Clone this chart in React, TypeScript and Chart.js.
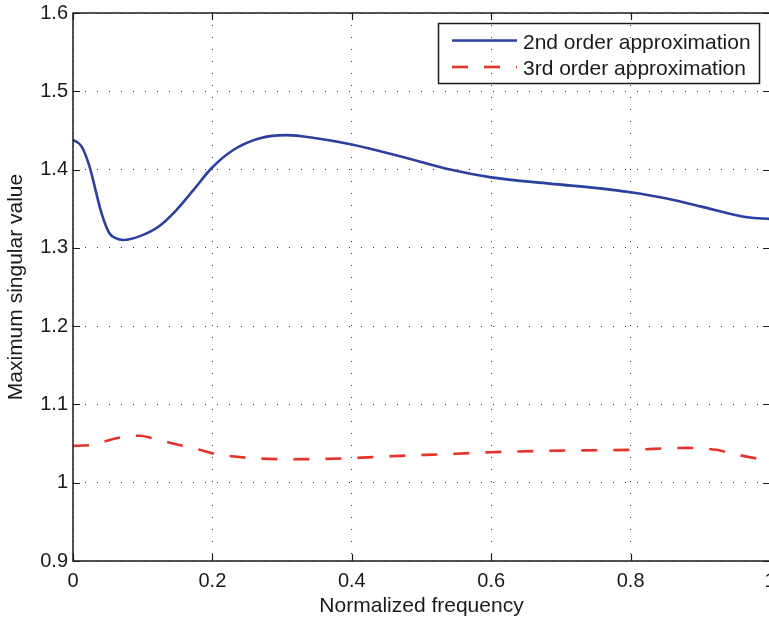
import React, { useEffect, useRef } from 'react';
import { Chart, registerables } from 'chart.js';

Chart.register(...registerables);

const secondFreq = [0, 0.012, 0.023, 0.041, 0.052, 0.062, 0.072, 0.096, 0.124, 0.148, 0.172, 0.199, 0.23, 0.268, 0.306, 0.349, 0.4, 0.469, 0.541, 0.6, 0.684, 0.756, 0.8, 0.852, 0.9, 0.967, 1.0];
const secondValues = [1.438, 1.43, 1.406, 1.344, 1.319, 1.312, 1.31, 1.315, 1.328, 1.348, 1.373, 1.402, 1.425, 1.44, 1.444, 1.44, 1.432, 1.417, 1.4, 1.39, 1.382, 1.376, 1.371, 1.363, 1.353, 1.339, 1.337];

const thirdFreq = [0, 0.024, 0.069, 0.096, 0.113, 0.139, 0.158, 0.182, 0.203, 0.249, 0.316, 0.388, 0.459, 0.55, 0.6, 0.699, 0.8, 0.88, 0.923, 0.947, 0.981, 1.0];
const thirdValues = [1.047, 1.048, 1.058, 1.06, 1.057, 1.051, 1.047, 1.042, 1.037, 1.032, 1.03, 1.031, 1.034, 1.037, 1.039, 1.041, 1.042, 1.0445, 1.042, 1.037, 1.031, 1.029];

const xTicks = [0, 0.2, 0.4, 0.6, 0.8, 1];
const xTickLabels = ['0', '0.2', '0.4', '0.6', '0.8', '1'];
const yTicks = [0.9, 1, 1.1, 1.2, 1.3, 1.4, 1.5, 1.6];
const yTickLabels = ['0.9', '1', '1.1', '1.2', '1.3', '1.4', '1.5', '1.6'];
const seriesLabels = ['2nd order approximation', '3rd order approximation'];

const FONT = '"Liberation Sans", Arial, Helvetica, sans-serif';
const BLUE = '#2b3f9e';
const RED = '#e5332a';
const INK = '#1a1a1a';

const framePlugin = {
  id: 'frame',
  afterDatasetsDraw(chart: any) {
    const { ctx, chartArea, scales } = chart;
    const { left, right, top, bottom } = chartArea;
    ctx.save();
    ctx.strokeStyle = INK;
    ctx.lineWidth = 1.5;
    ctx.strokeRect(left, top, right - left, bottom - top);
    ctx.lineWidth = 1.2;
    const tl = 7;
    ctx.beginPath();
    xTicks.forEach((v) => {
      const px = Math.round(scales.x.getPixelForValue(v)) + 0.5;
      ctx.moveTo(px, bottom);
      ctx.lineTo(px, bottom - tl);
      ctx.moveTo(px, top);
      ctx.lineTo(px, top + tl);
    });
    yTicks.forEach((v) => {
      const py = Math.round(scales.y.getPixelForValue(v)) + 0.5;
      ctx.moveTo(left, py);
      ctx.lineTo(left + tl, py);
      ctx.moveTo(right, py);
      ctx.lineTo(right - tl, py);
    });
    ctx.stroke();
    ctx.restore();
  },
};

const legendPlugin = {
  id: 'boxLegend',
  afterDraw(chart: any) {
    const { ctx } = chart;
    const ds = chart.data.datasets;
    ctx.save();
    ctx.strokeStyle = INK;
    ctx.lineWidth = 1.5;
    ctx.strokeRect(438.5, 23.5, 321, 60);
    const rows = [40.5, 67];
    const bases = [48.5, 74.5];
    ds.forEach((d: any, i: number) => {
      ctx.beginPath();
      ctx.strokeStyle = d.borderColor;
      ctx.lineWidth = d.borderWidth;
      ctx.setLineDash(d.borderDash || []);
      ctx.moveTo(452, rows[i]);
      ctx.lineTo(517, rows[i]);
      ctx.stroke();
      ctx.setLineDash([]);
      ctx.fillStyle = INK;
      ctx.font = `21px ${FONT}`;
      ctx.textBaseline = 'alphabetic';
      ctx.textAlign = 'left';
      ctx.fillText(d.label, 523, bases[i]);
    });
    ctx.restore();
  },
};

export default function App() {
  const ref = useRef<HTMLCanvasElement | null>(null);

  useEffect(() => {
    if (!ref.current) return;
    const chart = new Chart(ref.current, {
      type: 'line',
      data: {
        datasets: [
          {
            label: seriesLabels[0],
            data: secondFreq.map((x, i) => ({ x, y: secondValues[i] })),
            borderColor: BLUE,
            borderWidth: 2.6,
            pointRadius: 0,
            fill: false,
            cubicInterpolationMode: 'monotone',
          },
          {
            label: seriesLabels[1],
            data: thirdFreq.map((x, i) => ({ x, y: thirdValues[i] })),
            borderColor: RED,
            borderWidth: 2.6,
            borderDash: [16, 16],
            pointRadius: 0,
            fill: false,
            cubicInterpolationMode: 'monotone',
          },
        ],
      },
      options: {
        animation: false,
        responsive: false,
        devicePixelRatio: 1,
        layout: { padding: { top: 13, right: 10, left: 0, bottom: 0 } },
        plugins: { legend: { display: false }, tooltip: { enabled: false } },
        scales: {
          x: {
            type: 'linear',
            min: 0,
            max: 1,
            afterBuildTicks: (s: any) => {
              s.ticks = xTicks.map((v) => ({ value: v }));
            },
            afterFit: (s: any) => {
              s.height = 56;
              s.paddingLeft = 0;
              s.paddingRight = 0;
            },
            ticks: {
              color: INK,
              font: { family: FONT, size: 20 },
              padding: 8,
              maxRotation: 0,
              autoSkip: false,
              callback: (v: any, i: number) => xTickLabels[i],
            },
            grid: { color: '#333', lineWidth: 1, drawTicks: false },
            border: { display: false, dash: [1, 11] },
            title: {
              display: true,
              text: 'Normalized frequency',
              color: INK,
              font: { family: FONT, size: 21, lineHeight: 1 },
              padding: { top: 0, bottom: 0 },
            },
          },
          y: {
            type: 'linear',
            min: 0.9,
            max: 1.6,
            afterBuildTicks: (s: any) => {
              s.ticks = yTicks.map((v) => ({ value: v }));
            },
            afterFit: (s: any) => {
              s.width = 73;
              s.paddingTop = 0;
              s.paddingBottom = 0;
            },
            ticks: {
              color: INK,
              font: { family: FONT, size: 20 },
              padding: 5,
              autoSkip: false,
              callback: (v: any, i: number) => yTickLabels[i],
            },
            grid: { color: '#333', lineWidth: 1, drawTicks: false },
            border: { display: false, dash: [1, 11] },
            title: {
              display: true,
              text: 'Maximum singular value',
              color: INK,
              font: { family: FONT, size: 21, lineHeight: 1 },
              padding: { top: 6, bottom: 0 },
            },
          },
        },
      },
      plugins: [framePlugin, legendPlugin],
    } as any);
    return () => chart.destroy();
  }, []);

  return (
    <div style={{ position: 'fixed', left: 0, top: 0, width: 769, height: 617, overflow: 'hidden', background: '#fff' }}>
      <canvas ref={ref} width={780} height={617} style={{ display: 'block', width: 780, height: 617 }} />
    </div>
  );
}
